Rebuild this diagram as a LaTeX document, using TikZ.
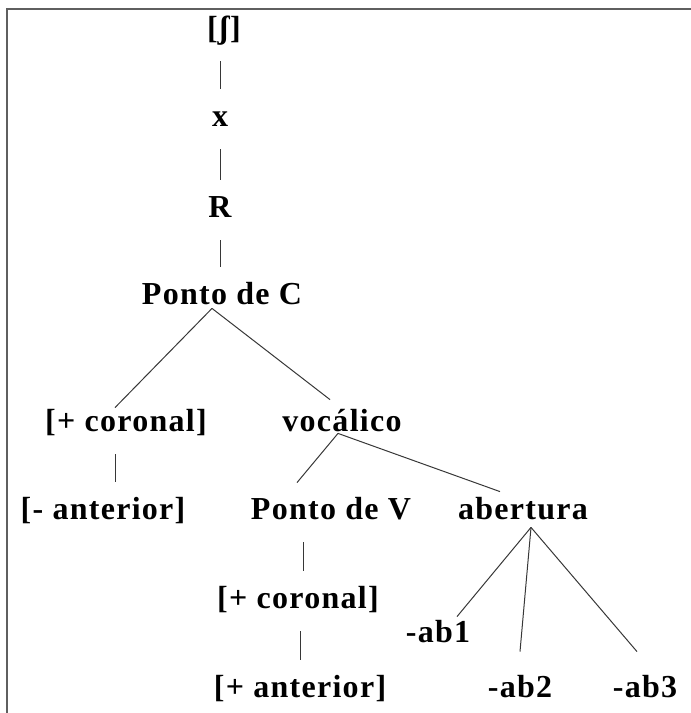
\documentclass[tikz,border=0pt]{standalone}
\usepackage{fontspec}
\usepackage{tikz}
\setmainfont{Liberation Serif}[LetterSpace=4]
\definecolor{framegray}{RGB}{95, 95, 95}
\definecolor{linegray}{RGB}{55, 55, 55}
\tikzset{
    fnode/.style={anchor=base, inner sep=0pt, text height=9pt, text depth=2pt, font=\fontsize{16}{18}\selectfont\bfseries},
    stem/.style={draw=linegray, line width=0.5pt, shorten <=9.5pt, shorten >=9.5pt},
    branch/.style={draw=linegray, line width=0.5pt},
    frameline/.style={draw=framegray, line width=0.8pt}
}

\begin{document}
\begin{tikzpicture}[x=0.5pt, y=-0.5pt]
    \useasboundingbox (0,0) rectangle (691,713);
    \draw[frameline] (691,9) -- (7,9) -- (7,713);
    % upper chain
    \node[fnode] (esh) at (224,38) {[ʃ]};
    \node[fnode] (xs) at (220,126) {x};
    \node[fnode] (rt) at (220,217) {R};
    \node[fnode] (pdc) at (222,304) {Ponto de C};
    % features
    \node[fnode] (cor1) at (126,431) {[+ coronal]};
    \node[fnode] (voc) at (342,431) {vocálico};
    \node[fnode] (ant1) at (103,519) {[- anterior]};
    \node[fnode] (pdv) at (331,519) {Ponto de V};
    \node[fnode] (abe) at (523,519) {abertura};
    \node[fnode] (cor2) at (298,608) {[+ coronal]};
    \node[fnode] (ant2) at (300,697) {[+ anterior]};
    \node[fnode] (ab1) at (438,642) {-ab1};
    \node[fnode] (ab2) at (520,697) {-ab2};
    \node[fnode] (ab3) at (645,697) {-ab3};

    \draw[stem] ([xshift=-2pt]esh.south) -- (xs.north);
    \draw[stem] (xs.south) -- (rt.north);
    \draw[stem] (rt.south) -- (rt.south |- pdc.north);
    \draw[branch] ([xshift=-5pt]pdc.south) -- ([xshift=-5.5pt,yshift=2.5pt]cor1.north);
    \draw[branch] ([xshift=-5pt]pdc.south) -- ([xshift=-6pt,yshift=6.5pt]voc.north);
    \draw[stem] ([xshift=-5.5pt]cor1.south) -- ([xshift=6pt]ant1.north);
    \draw[branch] ([xshift=-2pt,yshift=1pt]voc.south) -- ([xshift=-17pt,yshift=9pt]pdv.north);
    \draw[branch] ([xshift=-2pt,yshift=1pt]voc.south) -- ([xshift=-11.5pt,yshift=4.5pt]abe.north);
    \draw[stem] ([xshift=-14pt]pdv.south) -- ([xshift=2.5pt]cor2.north);
    \draw[stem] ([xshift=1pt]cor2.south) -- (ant2.north);
    \draw[branch] ([xshift=4pt,yshift=-2pt]abe.south) -- ([xshift=9.5pt,yshift=3.5pt]ab1.north);
    \draw[branch] ([xshift=4pt,yshift=-2pt]abe.south) -- ([yshift=13.5pt]ab2.north);
    \draw[branch] ([xshift=4pt,yshift=-2pt]abe.south) -- ([xshift=-4pt,yshift=13.5pt]ab3.north);
\end{tikzpicture}
\end{document}
